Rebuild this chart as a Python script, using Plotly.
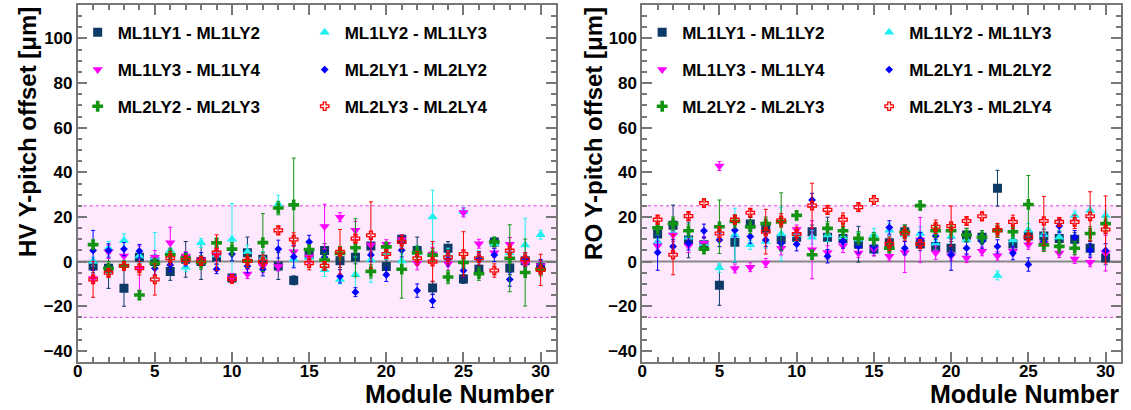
import plotly.graph_objects as go

W, H = 1131, 410

modules = list(range(1, 31))
series_names = ["ML1LY1 - ML1LY2", "ML1LY2 - ML1LY3", "ML1LY3 - ML1LY4",
                "ML2LY1 - ML2LY2", "ML2LY2 - ML2LY3", "ML2LY3 - ML2LY4"]
x_tick_vals = [0, 5, 10, 15, 20, 25, 30]
y_tick_vals = [-40, -20, 0, 20, 40, 60, 80, 100]

# ---------------- HV panel ----------------
hv_s1 = [-2, -3, -12, 2, 0, -4.4, 1, 0, 2, -7.4, 4, 1, -2, -8.4, 3, 5, 0.4, 2, 7, -2.2, 10, 5, -11.8, 6, -7.8, -3.4, 8.8, -2.9, 0.4, -2.5]
hv_s1_err = [3, 9, 8, 3, 3, 4, 8, 8, 3, 2, 7, 3, 6, 2, 2, 3, 3, 3, 3, 3, 2, 6, 3, 3, 2, 3, 2, 3, 3, 3]
hv_s2 = [0, 6, 9.5, 2.5, 2, 5, -2.5, 8.4, 3, 10, 4.4, 1.5, 25.7, 1, 2, -3.7, -8, -5.9, 0.7, 4, 0.3, 4, 20, 3, 22.3, 1.9, 8, 4, 7.4, 12]
hv_s2_err = [2, 3, 3, 3, 11, 3, 2, 2, 3, 16, 3, 3, 4, 3, 3, 3, 2, 8, 10, 3, 3, 3, 12, 3, 2, 3, 3, 3, 12, 2]
hv_s3 = [-7.6, 4.4, 2.5, -3, 2, 8.4, 2.5, 0.7, 3, -7.4, -5.6, -2, -2.2, 4.4, 2.2, 15.7, 19.9, 14, 7.4, 7.8, 9.9, -0.7, 3.4, -1, 22, 8, 4, 7.8, -0.7, -1.9]
hv_s3_err = [2, 3, 3, 10, 3, 7, 2, 2, 3, 2, 2, 3, 2, 3, 3, 10, 2, 4, 3, 2, 2, 3, 3, 3, 2, 2, 2, 3, 3, 2]
hv_s4 = [5, 5, 5.6, 4.7, -3, -1.5, 1, 1, -3.4, 3.4, -2, -3.4, 5.6, 2.2, 8.8, 2, -6.6, -13.7, 3, -5.9, 5.1, -13, -17.6, 1, -4, 1, 3, -8, 1, -2]
hv_s4_err = [9, 3, 3, 3, 3, 3, 3, 3, 2, 3, 3, 3, 4, 5, 3, 3, 3, 2, 3, 3, 3, 3, 3, 3, 3, 3, 3, 3, 3, 3]
hv_s5 = [7.6, -3, -1.8, -15, -0.7, 3, 1.5, -0.4, 8.4, 5.6, 0.3, 8.5, 24, 25.4, 5.4, 0.7, 3.7, 6.2, -4.4, 6.6, -3.4, 4, 2.9, -6.9, -0.4, -5.4, 8.8, 1.5, -4.9, -3.4]
hv_s5_err = [2, 3, 2, 2, 2, 3, 2, 3, 2, 3, 3, 13, 3, 21, 2, 3, 3, 13, 3, 2, 13, 3, 3, 3, 3, 3, 2, 15, 15, 3]
hv_s6 = [-8, -5, -2, -3, -8, 1.5, 0.7, 0.3, 4, -7.8, 0.3, 0, 14, 9.9, -0.7, -1.9, 4.4, 10.3, 11.8, 3.4, 8.8, 1.5, 0, 1.9, 3.4, 1.5, -4, 4.9, 1, -3.7]
hv_s6_err = [8, 2, 2, 3, 7, 3, 2, 2, 8, 2, 3, 3, 2, 3, 3, 2, 10, 2, 15, 2, 3, 3, 9, 3, 10, 3, 3, 3, 3, 7]

# ---------------- RO panel ----------------
ro_s1 = [12.4, 16.3, 9.7, 7.5, -10.6, 8.7, 16.8, 15.1, 10, 10.9, 13.4, 10.9, 10.4, 7.8, 5.6, 8.5, 13.4, 7.9, 6.8, 6, 11.9, 10.9, 32.9, 7.9, 11.5, 11.5, 10.4, 10, 6, 1.6]
ro_s1_err = [4, 9, 8, 3, 9, 9, 3, 3, 3, 3, 3, 9, 3, 8, 3, 3, 3, 3, 3, 3, 3, 3, 8, 3, 3, 3, 3, 3, 3, 3]
ro_s2 = [9, 13, 10.9, 8, -2.8, 11.9, 7.5, 9, 12.4, 12, 10.9, 11.9, 11, 10, 11.9, 14.1, 12, 12.6, 8.2, 11.2, 9.7, 11, -6.2, 9.7, 14.1, 12, 10.9, 20.7, 22.9, 20.7]
ro_s2_err = [3, 3, 3, 3, 2, 12, 2, 3, 12, 3, 3, 3, 3, 3, 3, 3, 3, 3, 3, 3, 3, 3, 2, 3, 3, 3, 3, 2, 2, 2]
ro_s3 = [7.1, 11.9, 7.1, 8.2, 42.8, -3.1, -2.5, -0.6, 6, 14.4, 5.3, 4.1, 7.1, 3.8, 5.6, 2.4, 4.1, 9.7, 4, 2.6, 1.6, 4.6, 2.6, 4.6, 7.5, 8, 3.8, 1.2, -0.3, 3.8]
ro_s3_err = [2, 3, 3, 3, 2, 2, 2, 2, 3, 2, 13, 3, 3, 2, 3, 2, 9, 10, 3, 2, 2, 2, 2, 2, 2, 3, 2, 2, 2, 8]
ro_s4 = [4.1, 6.8, 8.2, 13.8, 9.7, 14.1, 11.2, 9.7, 8.2, 7.8, 27.6, 2.4, 9, 6.8, 6.8, 15.3, 6, 10, 11.5, 3.1, 6, 9, 6.8, 3.8, -1.3, 9, 15.9, 10.9, 5, 5]
ro_s4_err = [8, 3, 3, 3, 3, 3, 3, 3, 3, 3, 3, 3, 3, 3, 3, 3, 3, 3, 3, 7, 3, 3, 3, 3, 3, 3, 3, 3, 3, 3]
ro_s5 = [15.1, 17, 13.8, 5.6, 15.6, 18, 15.6, 17, 17.8, 20.7, 3.1, 14.9, 13.8, 10.4, 10, 6, 13.4, 25.1, 13.8, 13.8, 11.9, 10.9, 13.8, 13.4, 25.6, 7.5, 6.8, 6, 12.6, 17]
ro_s5_err = [3, 3, 3, 2, 12, 3, 3, 3, 13, 2, 2, 3, 3, 3, 3, 2, 3, 2, 3, 3, 3, 3, 3, 3, 13, 3, 3, 3, 3, 3]
ro_s6 = [18.8, 3.1, 20.4, 26.2, 12.6, 18.8, 21.9, 13.4, 18.5, 12.4, 25.1, 23.2, 18.8, 24.4, 27.6, 8, 12.6, 7.9, 15.6, 15.9, 18.2, 20.3, 14.1, 17.8, 10.9, 18.2, 17.8, 17.8, 20.3, 14.4]
ro_s6_err = [2, 9, 2, 2, 3, 2, 2, 10, 3, 3, 10, 2, 3, 2, 2, 3, 3, 2, 3, 9, 2, 2, 3, 3, 3, 11, 2, 3, 11, 15]

hv_vals = [hv_s1, hv_s2, hv_s3, hv_s4, hv_s5, hv_s6]
hv_errs = [hv_s1_err, hv_s2_err, hv_s3_err, hv_s4_err, hv_s5_err, hv_s6_err]
ro_vals = [ro_s1, ro_s2, ro_s3, ro_s4, ro_s5, ro_s6]
ro_errs = [ro_s1_err, ro_s2_err, ro_s3_err, ro_s4_err, ro_s5_err, ro_s6_err]

colors = ["#0e3a68", "#1ff0f0", "#ff00ff", "#0000ff", "#129412", "#ff0000"]
symbols = ["square", "triangle-up", "triangle-down", "diamond", "cross", "cross-open"]
sizes = [9, 9, 9, 6, 9, 7]

FONT = "Liberation Sans, Arial, Helvetica, sans-serif"

top_px, bot_px = 5, 362
plot_h = bot_px - top_px


def py(pix):
    return (bot_px - pix) / plot_h


panels = [
    dict(x0=73, x1=553.5, xa="x", ya="y", vals=hv_vals, errs=hv_errs,
         legends=["legend", "legend2", "legend3"], title="HV Y-pitch offset [μm]", tx=22, lx=93),
    dict(x0=640, x1=1121, xa="x2", ya="y2", vals=ro_vals, errs=ro_errs,
         legends=["legend4", "legend5", "legend6"], title="RO Y-pitch offset [μm]", tx=591, lx=660),
]

fig = go.Figure()
for p in panels:
    for i in range(6):
        fig.add_trace(go.Scatter(
            x=modules, y=p["vals"][i], mode="markers", name="<b>" + series_names[i] + "</b>",
            xaxis=p["xa"], yaxis=p["ya"], legend=p["legends"][i // 2],
            marker=dict(symbol=symbols[i], size=sizes[i], color=colors[i],
                        line=dict(width=1.3 if i == 5 else 0, color=colors[i])),
            error_y=dict(type="data", array=p["errs"][i], color=colors[i], thickness=1, width=2),
        ))


def fmt(v):
    s = str(v)
    return "<b>" + s.replace("-", "\u2212") + "</b>"


axis_common = dict(
    showline=True, mirror="ticks", linecolor="#777", linewidth=1.5,
    ticks="inside", tickcolor="#777", tickwidth=1.5, ticklen=10,
    showgrid=False, zeroline=False,
    tickfont=dict(family=FONT, size=17, color="black"),
)

layout = dict(
    width=W, height=H, autosize=False,
    margin=dict(l=0, r=0, t=top_px, b=H - bot_px),
    paper_bgcolor="white", plot_bgcolor="white",
    showlegend=True,
    font=dict(family=FONT),
)

for k, p in enumerate(panels):
    sfx = "" if k == 0 else "2"
    layout["xaxis" + sfx] = dict(axis_common, domain=[p["x0"] / W, p["x1"] / W], range=[0, 31],
                                 tickmode="array", tickvals=x_tick_vals,
                                 ticktext=[fmt(v) for v in x_tick_vals],
                                 ticklabelstandoff=-7, anchor="y" + sfx,
                                 minor=dict(dtick=1, tick0=0, ticks="inside", ticklen=5,
                                            tickcolor="#777", tickwidth=1.5))
    layout["yaxis" + sfx] = dict(axis_common, domain=[0, 1], range=[-45, 115],
                                 tickmode="array", tickvals=y_tick_vals,
                                 ticktext=[fmt(v) for v in y_tick_vals],
                                 anchor="x" + sfx,
                                 minor=dict(dtick=5, tick0=0, ticks="inside", ticklen=5,
                                            tickcolor="#777", tickwidth=1.5))
    rows_px = [32.7, 70, 106.7]
    for r, lg in enumerate(p["legends"]):
        layout[lg] = dict(
            x=(p["lx"] - 20) / W, xanchor="left", y=py(rows_px[r]), yanchor="middle",
            orientation="h", entrywidth=182, entrywidthmode="pixels",
            bgcolor="rgba(0,0,0,0)", borderwidth=0,
            font=dict(family=FONT, size=17, color="black"),
            itemsizing="trace",
        )

fig.update_layout(**layout)

shapes = []
annotations = []
for k, p in enumerate(panels):
    xr = "x" if k == 0 else "x2"
    yr = "y" if k == 0 else "y2"
    shapes.append(dict(type="rect", xref=xr, yref=yr, x0=0, x1=31, y0=-25, y1=25,
                       fillcolor="#fee8fe", line=dict(width=0), layer="below"))
    for yv in (-25, 25):
        shapes.append(dict(type="line", xref=xr, yref=yr, x0=0, x1=31, y0=yv, y1=yv,
                           line=dict(color="#e040e0", width=1, dash="dot"), layer="below"))
    shapes.append(dict(type="line", xref=xr, yref=yr, x0=0, x1=31, y0=0, y1=0,
                       line=dict(color="#888", width=2), layer="below"))
    annotations.append(dict(text="<b>" + p["title"] + "</b>", xref="paper", yref="paper",
                            x=p["tx"] / W, y=1, xanchor="center", yanchor="top",
                            textangle=-90, showarrow=False,
                            font=dict(family=FONT, size=24, color="black")))
    annotations.append(dict(text="<b>Module Number</b>", xref="paper", yref="paper",
                            x=p["x1"] / W, y=py(394), xanchor="right", yanchor="middle",
                            showarrow=False,
                            font=dict(family=FONT, size=25, color="black")))

fig.update_layout(shapes=shapes, annotations=annotations)
fig.write_html("out.html")
